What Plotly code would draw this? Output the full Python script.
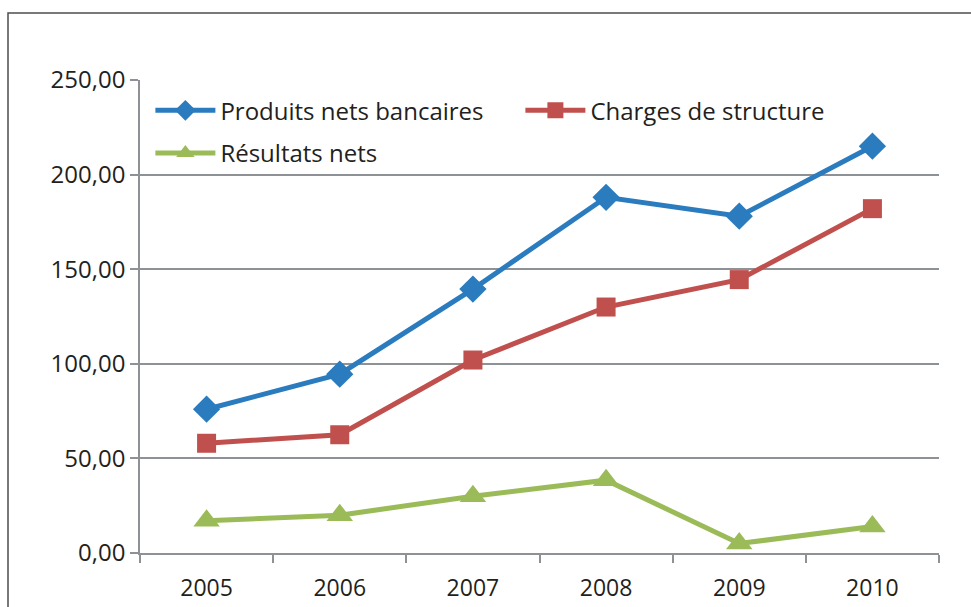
import plotly.graph_objects as go

years = ["2005", "2006", "2007", "2008", "2009", "2010"]
produits_nets_bancaires = [76.0, 94.5, 139.5, 188.0, 178.0, 215.0]
charges_de_structure = [58.0, 62.5, 102.0, 130.0, 144.5, 182.0]
resultats_nets = [17.0, 20.0, 30.0, 38.5, 5.0, 14.0]

BLUE = "#2b7bbf"
RED = "#c0504d"
GREEN = "#9bbb59"
GRID = "#8e9297"
TEXT = "#231f20"
FONT = "Open Sans, Liberation Sans, sans-serif"
SIZE = 23

fig = go.Figure()
fig.add_trace(go.Scatter(
    x=years, y=produits_nets_bancaires, name="Produits nets bancaires",
    mode="lines+markers", line=dict(color=BLUE, width=5),
    marker=dict(symbol="diamond", size=21, color=BLUE), legend="legend",
))
fig.add_trace(go.Scatter(
    x=years, y=charges_de_structure, name="Charges de structure",
    mode="lines+markers", line=dict(color=RED, width=5),
    marker=dict(symbol="square", size=19, color=RED), legend="legend",
))
fig.add_trace(go.Scatter(
    x=years, y=resultats_nets, name="Résultats nets",
    mode="lines+markers", line=dict(color=GREEN, width=5),
    marker=dict(symbol="triangle-up", size=23, color=GREEN), legend="legend2",
))

legend_common = dict(
    orientation="h", bgcolor="rgba(0,0,0,0)", borderwidth=0,
    font=dict(family=FONT, size=24, color=TEXT),
    itemwidth=60, xanchor="left", yanchor="middle",
    entrywidth=295, entrywidthmode="pixels",
)

fig.update_layout(
    width=971, height=607,
    margin=dict(l=140, r=32, t=80, b=54),
    paper_bgcolor="white", plot_bgcolor="white",
    separators=", ",
    font=dict(family=FONT, size=SIZE, color=TEXT),
    showlegend=True,
    legend=dict(x=0.013, y=0.935, **legend_common),
    legend2=dict(x=0.013, y=0.845, **legend_common),
    xaxis=dict(
        type="category", range=[-0.5, 5.5], showgrid=False, automargin=False,
        showline=True, linecolor=GRID, linewidth=1.5,
        ticks="outside", tickson="boundaries", ticklen=8, tickcolor=GRID, tickwidth=1.5,
        ticklabelstandoff=14,
        tickfont=dict(family=FONT, size=SIZE, color=TEXT), mirror=False,
    ),
    yaxis=dict(
        range=[0, 250], dtick=50, tickformat=".2f", automargin=False,
        showgrid=True, gridcolor=GRID, gridwidth=1.5,
        showline=True, linecolor=GRID, linewidth=1.5,
        ticks="outside", ticklen=8, tickcolor=GRID, tickwidth=1.5,
        tickfont=dict(family=FONT, size=SIZE + 1, color=TEXT), zeroline=False,
    ),
    shapes=[dict(
        type="rect", xref="paper", yref="paper",
        x0=(8 - 140) / 799, x1=(990 - 140) / 799,
        y0=(553 - 630) / 473, y1=(553 - 13) / 473,
        line=dict(color="#4d4d4d", width=1.5), fillcolor="rgba(0,0,0,0)", layer="below",
    )],
)

fig.write_html("out.html")
